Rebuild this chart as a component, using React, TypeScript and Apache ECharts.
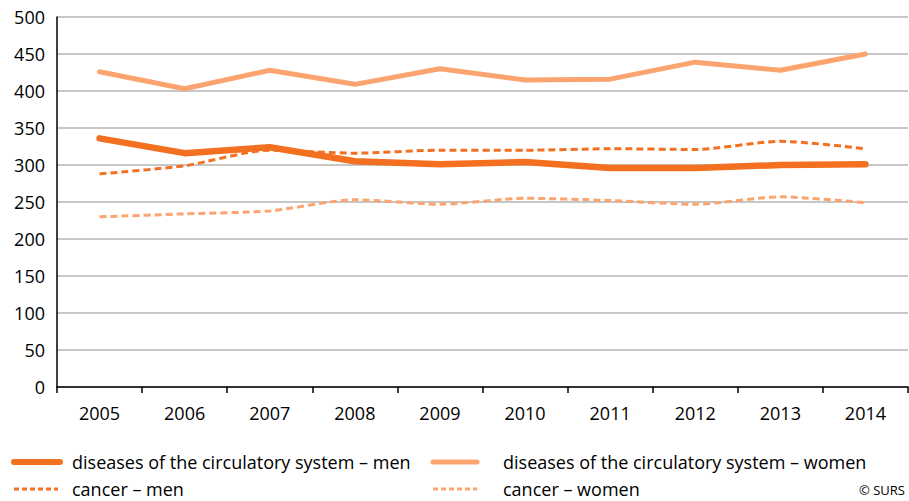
import React, { useEffect, useRef } from "react";
import * as echarts from "echarts";

const years = ["2005", "2006", "2007", "2008", "2009", "2010", "2011", "2012", "2013", "2014"];
const circMen = [336, 316, 324, 305, 301, 304, 296, 296, 300, 301];
const circWomen = [426, 403, 428, 409, 430, 415, 416, 439, 428, 450];
const cancerMen = [288, 299, 320, 316, 320, 320, 322, 321, 332, 322];
const cancerWomen = [230, 234, 238, 253, 247, 255, 252, 247, 257, 249];

const names = [
  "diseases of the circulatory system – men",
  "diseases of the circulatory system – women",
  "cancer – men",
  "cancer – women",
];

const DARK = "#F37021";
const LIGHT = "#FBA46F";
const FONT = "'Open Sans', 'Noto Sans', sans-serif";

export default function App() {
  const ref = useRef<HTMLDivElement>(null);
  useEffect(() => {
    if (!ref.current) return;
    const chart = echarts.init(ref.current, null, { renderer: "svg" });
    const legendItems = [
      { name: names[0], color: DARK, width: 6, dash: null as number[] | null, x1: 14, x2: 60, tx: 72, y: 462 },
      { name: names[1], color: LIGHT, width: 5, dash: null, x1: 433, x2: 477, tx: 503, y: 462 },
      { name: names[2], color: DARK, width: 3, dash: [5, 3], x1: 14, x2: 58, tx: 72, y: 489 },
      { name: names[3], color: LIGHT, width: 3, dash: [5, 3], x1: 433, x2: 477, tx: 503, y: 489 },
    ];
    const graphics: any[] = [];
    legendItems.forEach((it) => {
      graphics.push({
        type: "line",
        shape: { x1: it.x1, y1: it.y, x2: it.x2, y2: it.y },
        style: {
          stroke: it.color,
          lineWidth: it.width,
          lineDash: it.dash || undefined,
          lineCap: it.dash ? "butt" : "round",
        },
      });
      graphics.push({
        type: "text",
        x: it.tx,
        y: it.y,
        style: {
          text: it.name,
          fontFamily: FONT,
          fontSize: 18,
          lineHeight: 20,
          fill: "#000",
          verticalAlign: "middle",
        },
      });
    });
    graphics.push({
      type: "text",
      x: 905,
      y: 490,
      style: {
        text: "© SURS",
        fontFamily: FONT,
        fontSize: 13,
        fill: "#000",
        align: "right",
        verticalAlign: "middle",
      },
    });
    chart.setOption({
      animation: false,
      grid: { left: 57, right: 1, top: 17, bottom: 114 },
      xAxis: {
        type: "category",
        data: years,
        boundaryGap: true,
        axisLine: { lineStyle: { color: "#000", width: 1.5 } },
        axisTick: { show: true, length: 6, lineStyle: { color: "#000", width: 1.5 } },
        axisLabel: { fontFamily: FONT, fontSize: 18, color: "#000", margin: 17 },
      },
      yAxis: {
        type: "value",
        min: 0,
        max: 500,
        interval: 50,
        axisLine: { show: true, lineStyle: { color: "#000", width: 1.5 } },
        axisTick: { show: false },
        splitLine: { lineStyle: { color: "#b4b4b4", width: 1.5 } },
        axisLabel: { fontFamily: FONT, fontSize: 18, color: "#000", margin: 12 },
      },
      legend: { show: false },
      graphic: graphics,
      series: [
        {
          name: names[2],
          type: "line",
          data: cancerMen,
          symbol: "none",
          smooth: 0.25,
          lineStyle: { color: DARK, width: 3, type: [7, 4] },
          itemStyle: { color: DARK },
        },
        {
          name: names[3],
          type: "line",
          data: cancerWomen,
          symbol: "none",
          smooth: 0.25,
          lineStyle: { color: LIGHT, width: 3, type: [7, 4] },
          itemStyle: { color: LIGHT },
        },
        {
          name: names[1],
          type: "line",
          data: circWomen,
          symbol: "none",
          lineStyle: { color: LIGHT, width: 5, cap: "round" },
          itemStyle: { color: LIGHT },
        },
        {
          name: names[0],
          type: "line",
          data: circMen,
          symbol: "none",
          lineStyle: { color: DARK, width: 6.5, cap: "round" },
          itemStyle: { color: DARK },
        },
      ],
    });
    return () => chart.dispose();
  }, []);
  return (
    <div
      ref={ref}
      style={{ position: "fixed", left: 0, top: 0, width: 909, height: 501, background: "#fff" }}
    />
  );
}
